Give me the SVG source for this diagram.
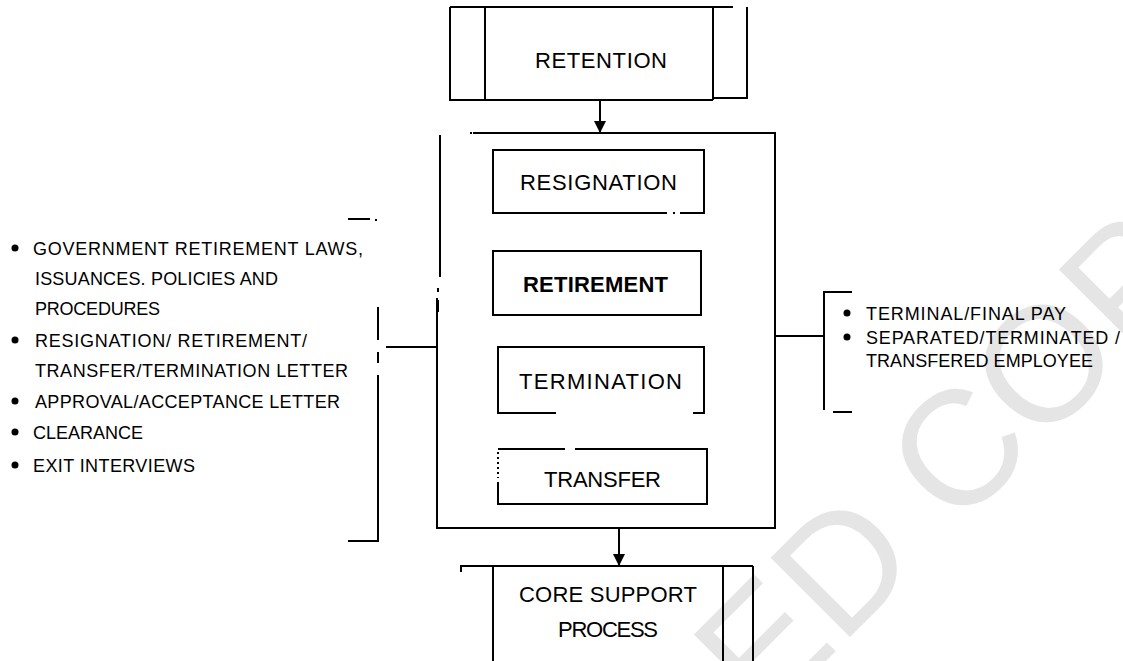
<svg xmlns="http://www.w3.org/2000/svg" width="1123" height="661" viewBox="0 0 1123 661">
  <style>
    .ln { fill: none; stroke: #000; stroke-width: 2; stroke-linecap: butt; }
    .box-t { font-family: "Liberation Sans", Arial, sans-serif; font-size: 22px; fill: #000; text-anchor: middle; }
    .list-t { font-family: "Liberation Sans", Arial, sans-serif; font-size: 18px; fill: #000; }
    .dot { fill: #000; }
    .wm { font-family: "Liberation Sans", Arial, sans-serif; font-size: 163px; fill: #e5e5e5; }
  </style>
  <defs>
    <marker id="arrow" viewBox="0 0 10 10" refX="10" refY="5" markerWidth="12" markerHeight="12" markerUnits="userSpaceOnUse" orient="auto">
      <path d="M0,0 L10,5 L0,10 z" fill="#000"/>
    </marker>
  </defs>
  <rect width="1123" height="661" fill="#fff"/>

  <!-- background stamp -->
  <g id="watermark">
    <text class="wm" x="-122" y="0" transform="translate(850,637) rotate(-45)">ED COPY</text>
  </g>

  <!-- top process -->
  <g id="node-retention">
    <path class="ln" d="M450,7 H733 M450,7 V100 H713 M485,7 V100 M713,7 V100 M747,7 V98 H713"/>
    <text class="box-t" x="601" y="68" textLength="132">RETENTION</text>
  </g>

  <!-- enclosing separation block -->
  <g id="node-separation">
    <path class="ln" d="M473,133 H775 V528 H437 V298 M440,135 V277"/>
    <path class="ln" d="M438,288 V292 M438,300 V312" stroke-width="3"/>
    <rect x="470" y="132" width="2" height="2" fill="#000"/>
  </g>

  <g id="node-resignation">
    <path class="ln" d="M680,213 H704 V150 H493 V213 H667"/>
    <rect x="673" y="212" width="2" height="2" fill="#000"/>
    <text class="box-t" x="598.5" y="190" textLength="157">RESIGNATION</text>
  </g>

  <g id="node-retirement">
    <rect class="ln" x="493" y="251" width="208" height="64"/>
    <text class="box-t" x="595.5" y="292" font-weight="bold" textLength="145">RETIREMENT</text>
  </g>

  <g id="node-termination">
    <path class="ln" d="M556,413 H498 V347 H704 V413 H693"/>
    <text class="box-t" x="600.5" y="389" textLength="163">TERMINATION</text>
  </g>

  <g id="node-transfer">
    <path class="ln" d="M498,449 H565 M575,449 H707 V504 H498 V482"/>
    <path class="ln" d="M498,452 V478" stroke-dasharray="2 3"/>
    <text class="box-t" x="602.5" y="487" textLength="117">TRANSFER</text>
  </g>

  <!-- bottom process -->
  <g id="node-core-support">
    <path class="ln" d="M461,572 V566 H753 M493,566 V661 M723,566 V661 M753,566 V661"/>
    <text class="box-t" x="608" y="601.5" textLength="178">CORE SUPPORT</text>
    <text class="box-t" x="608" y="636.5" textLength="100">PROCESS</text>
  </g>

  <!-- inputs -->
  <g id="node-inputs">
    <path class="ln" d="M348,219 H370 M378,307 V340 M378,352 V363 M378,375 V541 H348"/>
    <rect x="375" y="219" width="2" height="2" fill="#000"/>
    <circle class="dot" cx="15" cy="248" r="3.5"/>
    <circle class="dot" cx="15" cy="340" r="3.5"/>
    <circle class="dot" cx="15" cy="401" r="3.5"/>
    <circle class="dot" cx="15" cy="432" r="3.5"/>
    <circle class="dot" cx="15" cy="465" r="3.5"/>
    <text class="list-t" x="33" y="255" textLength="330">GOVERNMENT RETIREMENT LAWS,</text>
    <text class="list-t" x="35" y="285" textLength="243">ISSUANCES. POLICIES AND</text>
    <text class="list-t" x="35" y="315" textLength="125">PROCEDURES</text>
    <text class="list-t" x="35" y="347" textLength="272">RESIGNATION/ RETIREMENT/</text>
    <text class="list-t" x="35" y="377" textLength="313">TRANSFER/TERMINATION LETTER</text>
    <text class="list-t" x="35" y="408" textLength="305">APPROVAL/ACCEPTANCE LETTER</text>
    <text class="list-t" x="33" y="439" textLength="110">CLEARANCE</text>
    <text class="list-t" x="33" y="472" textLength="162">EXIT INTERVIEWS</text>
  </g>

  <!-- outputs -->
  <g id="node-outputs">
    <path class="ln" d="M852,292 H824 V410 M833,412 H852"/>
    <circle class="dot" cx="847" cy="313" r="3.5"/>
    <circle class="dot" cx="847" cy="337" r="3.5"/>
    <text class="list-t" x="866" y="320" textLength="200">TERMINAL/FINAL PAY</text>
    <text class="list-t" x="866" y="344" textLength="254">SEPARATED/TERMINATED /</text>
    <text class="list-t" x="866" y="366.5" textLength="227">TRANSFERED EMPLOYEE</text>
  </g>

  <!-- connectors -->
  <g id="connectors">
    <path class="ln" d="M600,100 V133" marker-end="url(#arrow)"/>
    <path class="ln" d="M619,528 V566" marker-end="url(#arrow)"/>
    <path class="ln" d="M386,347 H438"/>
    <path class="ln" d="M775,336 H823"/>
  </g>
</svg>
